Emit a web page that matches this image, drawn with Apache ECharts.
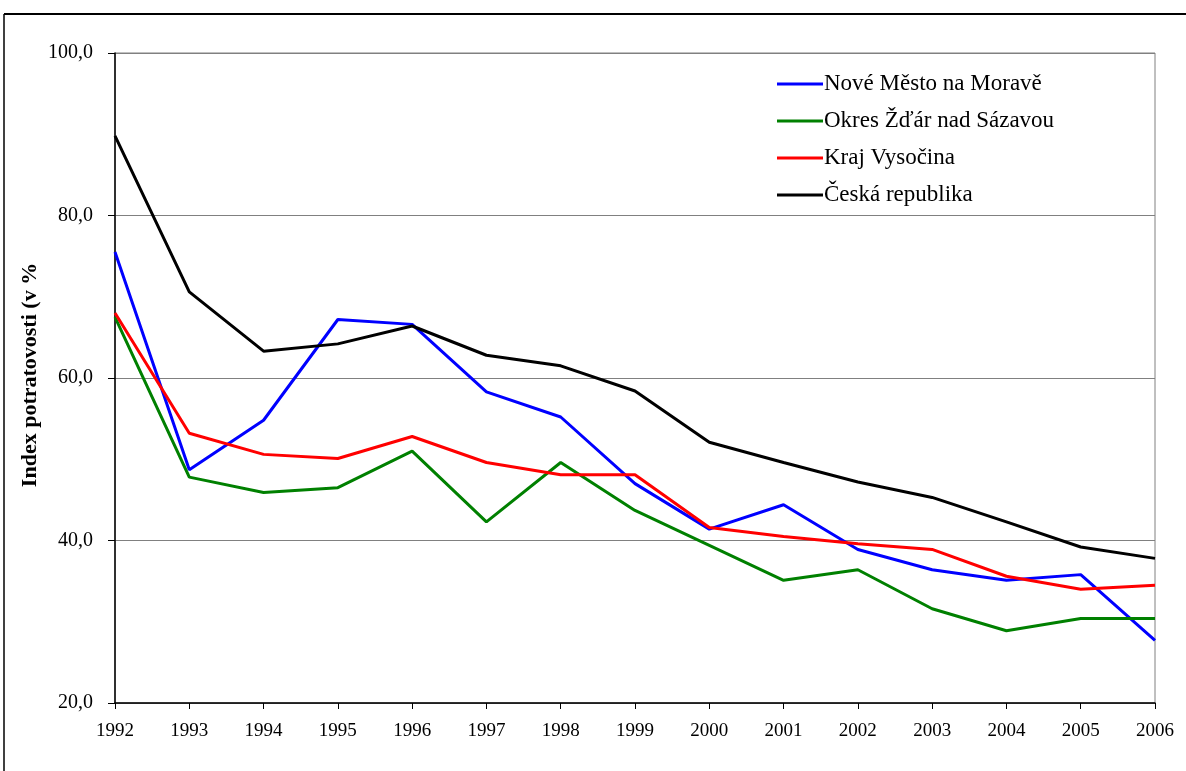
<!DOCTYPE html>
<html>
<head>
<meta charset="utf-8">
<script src="https://cdn.jsdelivr.net/npm/echarts@6/dist/echarts.min.js"></script>
<style>
  html, body { margin: 0; padding: 0; background: #fff; }
  #chart { width: 1186px; height: 771px; }
</style>
</head>
<body>
<div id="chart"></div>
<script>
const years = ['1992','1993','1994','1995','1996','1997','1998','1999','2000','2001','2002','2003','2004','2005','2006'];
const noveMesto = [75.5, 48.7, 54.8, 67.2, 66.6, 58.3, 55.2, 47.0, 41.4, 44.4, 38.9, 36.4, 35.1, 35.8, 27.7];
const okresZdar = [67.5, 47.8, 45.9, 46.5, 51.0, 42.3, 49.6, 43.7, 39.4, 35.1, 36.4, 31.6, 28.9, 30.4, 30.4];
const krajVysocina = [68.0, 53.2, 50.6, 50.1, 52.8, 49.6, 48.1, 48.1, 41.6, 40.5, 39.6, 38.9, 35.6, 34.0, 34.5];
const ceskaRepublika = [89.8, 70.6, 63.3, 64.2, 66.4, 62.8, 61.5, 58.4, 52.1, 49.6, 47.2, 45.3, 42.3, 39.2, 37.8];
const seriesNames = ['Nové Město na Moravě', 'Okres Žďár nad Sázavou', 'Kraj Vysočina', 'Česká republika'];
const yTicks = { min: 20, max: 100, step: 20 };

const serif = '"Liberation Serif", "DejaVu Serif", serif';

function line(name, data, color) {
  return {
    name: name,
    type: 'line',
    data: data,
    symbol: 'none',
    lineStyle: { color: color, width: 3 },
    itemStyle: { color: color },
    animation: false
  };
}

const chart = echarts.init(document.getElementById('chart'));
const option = {
  backgroundColor: '#fff',
  animation: false,
  grid: {
    left: 115, right: 31, top: 53, bottom: 68,
    show: true, borderColor: '#808080', borderWidth: 1
  },
  legend: {
    left: 772, top: 67, orient: 'vertical',
    icon: 'rect', itemWidth: 46, itemHeight: 3, itemGap: 13,
    textStyle: { fontFamily: serif, fontSize: 23, color: '#000', lineHeight: 24, padding: [0, 0, 0, -4] },
    data: seriesNames
  },
  xAxis: {
    type: 'category',
    data: years,
    boundaryGap: false,
    axisLine: { lineStyle: { color: '#000', width: 1.5 } },
    axisTick: { show: true, length: 6, lineStyle: { color: '#000' } },
    axisLabel: { fontFamily: serif, fontSize: 19, color: '#000', margin: 19 },
    splitLine: { show: false }
  },
  yAxis: {
    type: 'value',
    min: yTicks.min, max: yTicks.max, interval: yTicks.step,
    axisLine: { show: true, lineStyle: { color: '#000', width: 1.5 } },
    axisTick: { show: true, length: 7, lineStyle: { color: '#000' } },
    axisLabel: {
      fontFamily: serif, fontSize: 20, color: '#000', margin: 22,
      formatter: function (v) { return v.toFixed(1).replace('.', ','); }
    },
    splitLine: { show: true, lineStyle: { color: '#808080', width: 1 } }
  },
  graphic: [
    { type: 'line', shape: { x1: 4, y1: 14, x2: 1186, y2: 14 }, style: { stroke: '#000', lineWidth: 2 } },
    { type: 'line', shape: { x1: 4, y1: 14, x2: 4, y2: 771 }, style: { stroke: '#000', lineWidth: 1.5 } },
    {
      type: 'text', x: 30, y: 375, rotation: Math.PI / 2,
      style: {
        text: 'Index potratovosti (v %', fontFamily: serif, fontSize: 22, fontWeight: 'bold',
        fill: '#000', align: 'center', verticalAlign: 'middle'
      }
    }
  ],
  series: [
    line(seriesNames[0], noveMesto, '#0000ff'),
    line(seriesNames[1], okresZdar, '#008000'),
    line(seriesNames[2], krajVysocina, '#ff0000'),
    line(seriesNames[3], ceskaRepublika, '#000000')
  ]
};
chart.setOption(option);
</script>
</body>
</html>
